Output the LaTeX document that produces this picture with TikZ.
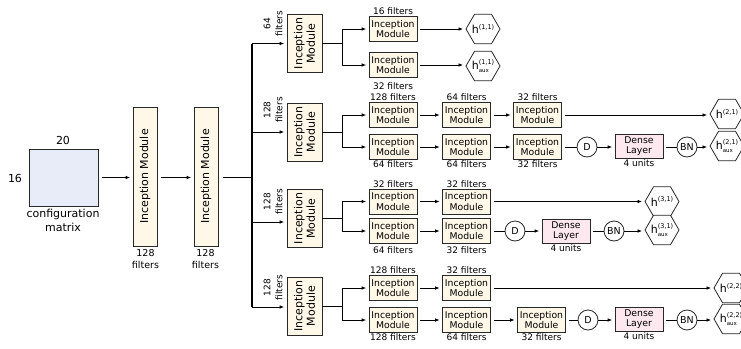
\documentclass[tikz,border=0pt]{standalone}
\usepackage{fontspec}
\setmainfont{DejaVu Sans}
\usetikzlibrary{shapes.geometric,arrows.meta}
\definecolor{imfill}{RGB}{255,248,232}
\definecolor{cfgfill}{RGB}{232,236,249}
\definecolor{densefill}{RGB}{252,232,238}
\definecolor{edge}{RGB}{40,40,40}
\newcommand{\hsup}[1]{h\raisebox{4.6pt}{\fontsize{6.5}{7}\selectfont(#1)}}
\newcommand{\hsupaux}[1]{h\makebox[0pt][l]{\raisebox{-2.6pt}{\fontsize{5.5}{6}\selectfont aux}}\raisebox{4.6pt}{\fontsize{6.5}{7}\selectfont(#1)}}
\begin{document}
\begin{tikzpicture}[x=1pt,y=-1pt,
  im/.style={draw=edge, line width=0.8pt, fill=imfill, inner sep=0pt, minimum width=48pt, minimum height=25pt, align=center, font=\fontsize{9.3}{10.5}\selectfont},
  bigim/.style={draw=edge, line width=0.8pt, fill=imfill, inner sep=0pt, minimum width=58pt, minimum height=35pt, align=center, rotate=90, font=\fontsize{11}{12.5}\selectfont},
  colim/.style={draw=edge, line width=0.8pt, fill=imfill, inner sep=0pt, minimum width=139pt, minimum height=24pt, rotate=90, font=\fontsize{11}{12.5}\selectfont},
  dense/.style={draw=edge, line width=0.8pt, fill=densefill, inner sep=0pt, minimum width=48pt, minimum height=24pt, align=center, font=\fontsize{9.3}{10.5}\selectfont},
  circ/.style={draw=edge, line width=0.8pt, fill=white, circle, inner sep=0pt, minimum size=20pt, font=\fontsize{9.5}{10}\selectfont},
  hex/.style={draw=edge, line width=0.8pt, fill=white, regular polygon, regular polygon sides=6, inner sep=0pt, minimum size=34pt},
  hlab/.style={inner sep=0pt, font=\fontsize{11}{12}\selectfont},
  lab/.style={inner sep=1pt, font=\fontsize{9}{10}\selectfont},
  rlab/.style={inner sep=0pt, rotate=90, align=center, font=\fontsize{9}{12}\selectfont},
  big/.style={inner sep=0pt, align=center, font=\fontsize{11}{14}\selectfont},
  arr/.style={-{Latex[length=4.5pt,width=3.6pt]}, line width=0.8pt, shorten >=2.5pt},
  arr2/.style={arr, shorten <=3pt},
  ln/.style={line width=0.8pt, shorten <=3pt, shorten >=0pt},
  busline/.style={line width=1.4pt}
]
\clip (0,0) rectangle (741,348);

% input
\node[draw=edge, line width=0.8pt, fill=cfgfill, minimum width=69pt, minimum height=57pt, inner sep=0pt] (cfg) at (63.5,177.5) {};
\node[big] (l20) at (63,140.5) {20};
\node[big] (l16) at (15,178) {16};
\node[big] (lcfg) at (63,220) {configuration\\matrix};

\node[colim] (c1) at (145,176.5) {Inception Module};
\node[colim] (c2) at (206,176.5) {Inception Module};
\node[lab, align=center, font=\fontsize{9.5}{11.5}\selectfont] (lc1) at (145.5,259) {128\\filters};
\node[lab, align=center, font=\fontsize{9.5}{11.5}\selectfont] (lc2) at (205.5,259) {128\\filters};

\draw[arr, shorten <=4pt] (cfg.east) -- (c1.north |- cfg.east);
\draw[arr, shorten <=4pt] (c1.south |- cfg.east) -- (c2.north |- cfg.east);

\coordinate (bt) at (252,43.5);
\coordinate (bb) at (252,307);
\draw[busline] (bt) -- (bb);
\draw[busline, shorten <=5pt] (c2.south |- cfg.east) -- (cfg.east -| bt);

% ---------- branch 1
\node[bigim] (b1) at (304.5,43.5) {Inception\\Module};
\node[rlab] (r1) at (273,23.5) {64\\filters};
\draw[arr] (bt) -- (b1.north);
\node[im] (b1a) at (393,29) {Inception\\Module};
\node[im] (b1b) at (393,65) {Inception\\Module};
\node[lab, anchor=south] at (b1a.north) {16 filters};
\node[lab, anchor=north, yshift=-4pt] at (b1b.south) {32 filters};
\node[hex] (h1) at (483,29) {};
\node[hlab] (t1) at (h1) {\hsup{1,1}};
\node[hex] (h1x) at (483,66) {};
\node[hlab] (t1x) at (h1x) {\hsupaux{1,1}};
\draw[line width=1pt] (b1.south) -- (b1.south -| 342,0) coordinate (j1);
\draw[arr] (j1) |- (b1a.west);
\draw[arr] (j1) |- (b1b.west);
\draw[arr2] (b1a.east) -- (h1.west);
\draw[arr2] (b1b.east) -- (b1b.east -| h1x.west);

% ---------- branch 2
\node[bigim] (b2) at (304.5,132) {Inception\\Module};
\node[rlab] (r2) at (273,110) {128\\filters};
\draw[arr] (b2.north -| bt) -- (b2.north);
\node[im] (b2a) at (393,115) {Inception\\Module};
\node[im] (b2b) at (466.5,115) {Inception\\Module};
\node[im] (b2c) at (537.5,115) {Inception\\Module};
\node[im] (b2d) at (393,147) {Inception\\Module};
\node[im] (b2e) at (466.5,147) {Inception\\Module};
\node[im] (b2f) at (537.5,147) {Inception\\Module};
\node[lab, anchor=south] at (b2a.north) {128 filters};
\node[lab, anchor=south] at (b2b.north) {64 filters};
\node[lab, anchor=south] at (b2c.north) {32 filters};
\node[lab, anchor=north] at (b2d.south) {64 filters};
\node[lab, anchor=north] at (b2e.south) {64 filters};
\node[lab, anchor=north] at (b2f.south) {32 filters};
\node[circ] (d2) at (587,147) {D};
\node[dense] (dl2) at (639,146) {Dense\\Layer};
\node[lab, anchor=north] at (dl2.south) {4 units};
\node[circ] (bn2) at (687,147) {BN};
\node[hex] (h2) at (727,114) {};
\node[hlab] (t2) at (h2) {\hsup{2,1}};
\node[hex] (h2x) at (727,146) {};
\node[hlab] (t2x) at (h2x) {\hsupaux{2,1}};
\draw[line width=1pt] (b2.south) -- (b2.south -| 342,0) coordinate (j2);
\draw[arr] (j2) |- (b2a.west);
\draw[arr] (j2) |- (b2d.west);
\draw[arr2] (b2a) -- (b2b);
\draw[arr2] (b2b) -- (b2c);
\draw[arr2] (b2d) -- (b2e);
\draw[arr2] (b2e) -- (b2f);
\draw[arr2] (b2c.east) -- (b2c.east -| h2.west);
\draw[ln] (b2f.east) -- (d2.west);
\draw[arr] (d2.east) -- (d2.east -| dl2.west);
\draw[ln] (dl2.east |- bn2.west) -- (bn2.west);
\draw[arr] (bn2.east) -- (bn2.east -| h2x.west);

% ---------- branch 3
\node[bigim] (b3) at (304.5,218.5) {Inception\\Module};
\node[rlab] (r3) at (273,201.5) {128\\filters};
\draw[arr] ([yshift=-3.5pt]b3.north -| bt) -- ([yshift=-3.5pt]b3.north);
\node[im] (b3a) at (393,201.5) {Inception\\Module};
\node[im] (b3b) at (466.5,201.5) {Inception\\Module};
\node[im] (b3d) at (393,231) {Inception\\Module};
\node[im] (b3e) at (466.5,231) {Inception\\Module};
\node[lab, anchor=south] at (b3a.north) {32 filters};
\node[lab, anchor=south] at (b3b.north) {32 filters};
\node[lab, anchor=north, yshift=-2pt] at (b3d.south) {64 filters};
\node[lab, anchor=north, yshift=-2pt] at (b3e.south) {32 filters};
\node[circ] (d3) at (515,231) {D};
\node[dense] (dl3) at (566,231) {Dense\\Layer};
\node[lab, anchor=north] at (dl3.south) {4 units};
\node[circ] (bn3) at (614,231) {BN};
\node[hex] (h3) at (662,201.5) {};
\node[hlab] (t3) at (h3) {\hsup{3,1}};
\node[hex] (h3x) at (662,230) {};
\node[hlab] (t3x) at (h3x) {\hsupaux{3,1}};
\draw[line width=1pt] (b3.south) -- (b3.south -| 342,0) coordinate (j3);
\draw[arr] (j3) |- (b3a.west);
\draw[arr] (j3) |- (b3d.west);
\draw[arr2] (b3a) -- (b3b);
\draw[arr2] (b3d) -- (b3e);
\draw[arr2] (b3b.east) -- (b3b.east -| h3.west);
\draw[ln] (b3e.east) -- (d3.west);
\draw[arr] (d3.east) -- (dl3.west);
\draw[ln] (dl3.east) -- (bn3.west);
\draw[arr] (bn3.east) -- (bn3.east -| h3x.west);

% ---------- branch 4
\node[bigim] (b4) at (304.5,306) {Inception\\Module};
\node[rlab] (r4) at (273,287.5) {128\\filters};
\draw[arr] (bb) -- (b4.north |- bb);
\node[im] (b4a) at (393,288) {Inception\\Module};
\node[im] (b4b) at (466.5,288) {Inception\\Module};
\node[im] (b4d) at (393,320) {Inception\\Module};
\node[im] (b4e) at (466.5,320) {Inception\\Module};
\node[im] (b4f) at (541.5,320) {Inception\\Module};
\node[lab, anchor=south] at (b4a.north) {128 filters};
\node[lab, anchor=south] at (b4b.north) {32 filters};
\node[lab, anchor=north] at (b4d.south) {128 filters};
\node[lab, anchor=north] at (b4e.south) {64 filters};
\node[lab, anchor=north] at (b4f.south) {32 filters};
\node[circ] (d4) at (588,320) {D};
\node[dense] (dl4) at (639,319) {Dense\\Layer};
\node[lab, anchor=north] at (dl4.south) {4 units};
\node[circ] (bn4) at (687,320) {BN};
\node[hex] (h4) at (731,288) {};
\node[hlab] (t4) at (h4) {\hsup{2,2}};
\node[hex] (h4x) at (731,319) {};
\node[hlab] (t4x) at (h4x) {\hsupaux{2,2}};
\draw[line width=1pt] (b4.south) -- (b4.south -| 342,0) coordinate (j4);
\draw[arr] (j4) |- (b4a.west);
\draw[arr] (j4) |- (b4d.west);
\draw[arr2] (b4a) -- (b4b);
\draw[arr2] (b4d) -- (b4e);
\draw[arr2] (b4e) -- (b4f);
\draw[arr2] (b4b.east) -- (b4b.east -| h4.west);
\draw[ln] (b4f.east) -- (d4.west);
\draw[arr] (d4.east) -- (d4.east -| dl4.west);
\draw[ln] (dl4.east |- bn4.west) -- (bn4.west);
\draw[arr] (bn4.east) -- (bn4.east -| h4x.west);
\end{tikzpicture}
\end{document}
